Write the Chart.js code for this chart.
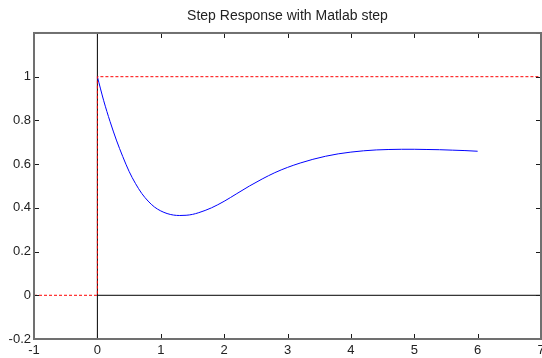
<!DOCTYPE html>
<html>
<head>
<meta charset="utf-8">
<title>Step Response with Matlab step</title>
<script src="https://cdn.jsdelivr.net/npm/chart.js@4"></script>
<style>
  html, body { margin: 0; padding: 0; background: #fff; }
  canvas { display: block; }
</style>
</head>
<body>
<canvas id="chart" width="542" height="358"></canvas>
<script>
// step response samples (time, output)
const timeVals = [0, 0.1, 0.2, 0.3, 0.4, 0.5, 0.6, 0.7, 0.8, 0.9, 1.0, 1.1, 1.2, 1.3, 1.4, 1.5, 1.6,
  1.8, 2.0, 2.2, 2.4, 2.6, 2.8, 3.0, 3.2, 3.4, 3.6, 3.8, 4.0, 4.2, 4.4, 4.6, 4.8, 5.0, 5.2, 5.4, 5.6, 5.8, 6.0];
const respVals = [1.0, 0.89, 0.795, 0.71, 0.635, 0.567, 0.512, 0.466, 0.431, 0.404, 0.386, 0.374, 0.367, 0.365, 0.366, 0.370, 0.378,
  0.400, 0.430, 0.465, 0.500, 0.532, 0.561, 0.585, 0.605, 0.622, 0.636, 0.647, 0.655, 0.661, 0.665, 0.667, 0.668, 0.668, 0.667, 0.666, 0.664, 0.662, 0.659];

// unit step input
const stepT = [-1, 0, 0, 7];
const stepY = [0, 0, 1, 1];

// axis lines through the origin
const hLineT = [0, 7];
const hLineY = [0, 0];
const vLineT = [0, 0];
const vLineY = [-0.2, 1.2];

const xTicks = [-1, 0, 1, 2, 3, 4, 5, 6, 7];
const yTicks = [-0.2, 0, 0.2, 0.4, 0.6, 0.8, 1, 1.2];

const pts = (xs, ys) => xs.map((x, i) => ({ x: x, y: ys[i] }));

const FONT = "'Liberation Sans', Arial, sans-serif";

// matlab style box with inward ticks on all four sides
const boxPlugin = {
  id: 'box',
  afterLayout(chart) {
    // center the title over the plot area rather than the canvas
    const t = chart.titleBlock;
    if (t) { t.left = chart.chartArea.left; t.right = chart.chartArea.right; }
  },
  afterDraw(chart) {
    const { ctx, chartArea: a, scales } = chart;
    ctx.save();
    ctx.strokeStyle = '#1a1a1a';
    ctx.lineWidth = 1;
    const len = 5;
    ctx.beginPath();
    xTicks.forEach(v => {
      const px = Math.round(scales.x.getPixelForValue(v)) + 0.5;
      ctx.moveTo(px, a.bottom); ctx.lineTo(px, a.bottom - len);
      ctx.moveTo(px, a.top); ctx.lineTo(px, a.top + len);
    });
    yTicks.forEach(v => {
      const py = Math.round(scales.y.getPixelForValue(v)) + 0.5;
      ctx.moveTo(a.left, py); ctx.lineTo(a.left + len, py);
      ctx.moveTo(a.right, py); ctx.lineTo(a.right - len, py);
    });
    ctx.stroke();
    ctx.strokeStyle = '#707070';
    ctx.lineWidth = 2;
    ctx.strokeRect(a.left, a.top, a.right - a.left, a.bottom - a.top);
    ctx.restore();
  }
};

new Chart(document.getElementById('chart'), {
  type: 'line',
  data: {
    datasets: [
      {
        data: pts(stepT, stepY),
        borderColor: '#ff0000',
        borderWidth: 1,
        borderDash: [3, 2],
        pointRadius: 0,
        tension: 0
      },
      {
        data: pts(timeVals, respVals),
        borderColor: '#0000ff',
        borderWidth: 1,
        pointRadius: 0,
        cubicInterpolationMode: 'monotone'
      },
      {
        data: pts(hLineT, hLineY),
        borderColor: '#000000',
        borderWidth: 1,
        pointRadius: 0
      },
      {
        data: pts(vLineT, vLineY),
        borderColor: '#000000',
        borderWidth: 1,
        pointRadius: 0
      }
    ]
  },
  options: {
    responsive: false,
    animation: false,
    devicePixelRatio: 1,
    layout: { padding: { left: 0, right: 1, top: 0, bottom: 0 } },
    plugins: {
      legend: { display: false },
      tooltip: { enabled: false },
      title: {
        display: true,
        text: 'Step Response with Matlab step',
        color: '#222',
        font: { family: FONT, size: 14, weight: 'normal', lineHeight: 1.07 },
        padding: { top: 9, bottom: 9 }
      }
    },
    scales: {
      x: {
        type: 'linear',
        min: -1,
        max: 7,
        grid: { display: false, drawTicks: false },
        border: { display: false },
        afterBuildTicks: s => { s.ticks = xTicks.map(v => ({ value: v })); },
        ticks: {
          color: '#222',
          padding: 4,
          maxRotation: 0,
          font: { family: FONT, size: 13 },
          callback: v => String(v)
        },
        afterFit: s => { s.height = 19; s.paddingLeft = 0; s.paddingRight = 0; }
      },
      y: {
        type: 'linear',
        min: -0.2,
        max: 1.2,
        grid: { display: false, drawTicks: false },
        border: { display: false },
        afterBuildTicks: s => { s.ticks = yTicks.map(v => ({ value: v })); },
        ticks: {
          color: '#222',
          padding: 3,
          font: { family: FONT, size: 13 },
          callback: v => (Math.abs(v - 1.2) < 1e-6 ? '' : String(+v.toFixed(1)))
        },
        afterFit: s => { s.width = 34; s.paddingTop = 0; s.paddingBottom = 0; }
      }
    }
  },
  plugins: [boxPlugin]
});
</script>
</body>
</html>
